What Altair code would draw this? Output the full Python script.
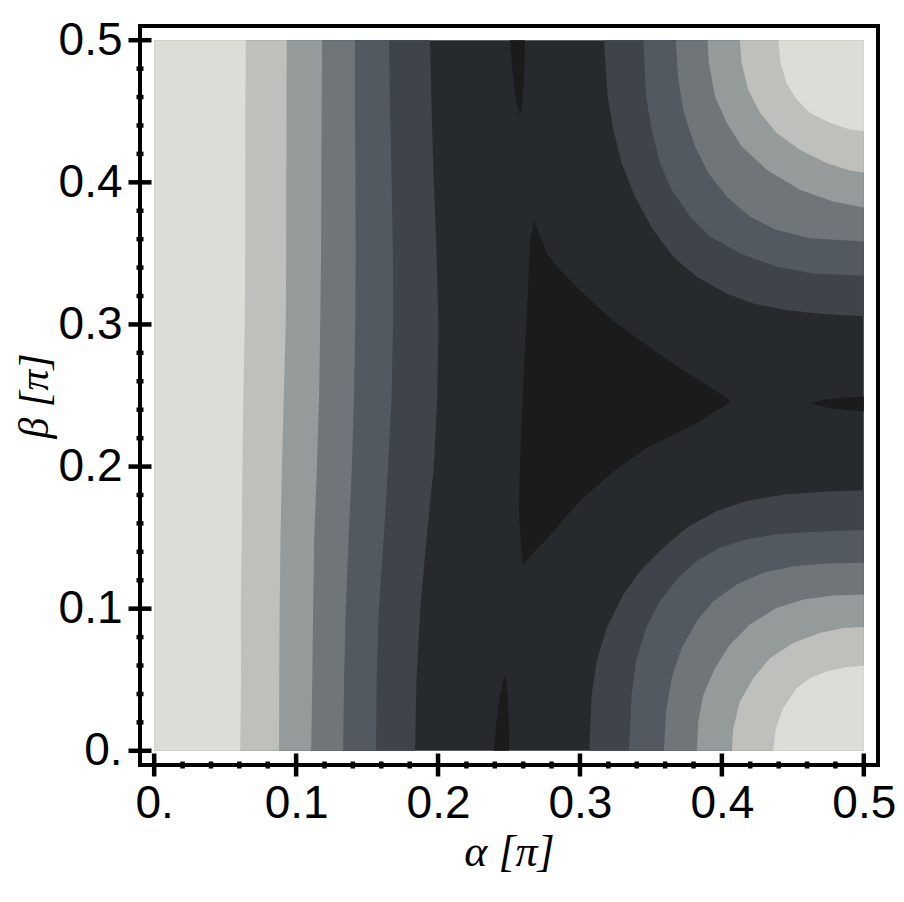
import altair as alt
import pandas as pd

# ---------------- values ----------------
# contour fill colours, lightest (level 0) to darkest (level 7)
LEVEL_COLORS = ["#dcddd6", "#bfc0bc", "#959a9a", "#6f7578",
                "#525960", "#3f434a", "#272a2d", "#1b1b1b"]

AXIS_DOMAIN = [-0.01, 0.51]          # frame range (plot range + padding)
DATA_RANGE = [0.0, 0.5]
MAJOR_TICKS = [0.0, 0.1, 0.2, 0.3, 0.4, 0.5]
MINOR_TICKS = [0.02, 0.04, 0.06, 0.08, 0.12, 0.14, 0.16, 0.18,
               0.22, 0.24, 0.26, 0.28, 0.32, 0.34, 0.36, 0.38,
               0.42, 0.44, 0.46, 0.48]

# left vertical bands: alpha position of each contour line at these beta values
BETA_GRID = [0.00, 0.05, 0.10, 0.15, 0.20, 0.25, 0.30, 0.35, 0.40, 0.45, 0.50]
LEFT_LINE_0 = [.0606, .0612, .0610, .0617, .0622, .0628, .0638, .0641, .0641, .0643, .0645]
LEFT_LINE_1 = [.0880, .0881, .0884, .0890, .0900, .0913, .0927, .0930, .0931, .0932, .0934]
LEFT_LINE_2 = [.1106, .1114, .1120, .1128, .1147, .1162, .1170, .1176, .1178, .1180, .1183]
LEFT_LINE_3 = [.1331, .1338, .1350, .1370, .1393, .1408, .1417, .1420, .1418, .1415, .1415]
LEFT_LINE_4 = [.1563, .1568, .1583, .1618, .1648, .1673, .1683, .1682, .1673, .1662, .1655]
LEFT_LINE_5 = [.1838, .1848, .1875, .1920, .1970, .1995, .2003, .1990, .1970, .1955, .1944]

# bottom-right arcs (alpha, beta) for contour levels 0..5
BR_ALPHA_0 = [.4362, .4380, .4432, .4526, .4620, .4737, .4878, .5000]
BR_BETA_0 = [.0000, .0158, .0299, .0440, .0511, .0558, .0589, .0598]
BR_ALPHA_1 = [.4070, .4080, .4127, .4221, .4338, .4502, .4690, .4854, .5000]
BR_BETA_1 = [.0000, .0158, .0346, .0511, .0652, .0758, .0829, .0864, .0871]
BR_ALPHA_2 = [.3824, .3833, .3869, .3951, .4056, .4197, .4385, .4573, .4784, .5000]
BR_BETA_2 = [.0000, .0205, .0393, .0581, .0746, .0888, .1005, .1064, .1092, .1099]
BR_ALPHA_3 = [.3592, .3606, .3646, .3716, .3822, .3939, .4103, .4291, .4502, .4737, .5000]
BR_BETA_3 = [.0000, .0275, .0511, .0723, .0911, .1052, .1170, .1252, .1299, .1318, .1323]
BR_ALPHA_4 = [.3345, .3364, .3394, .3465, .3563, .3692, .3822, .3986, .4174, .4385, .4643, .5000]
BR_BETA_4 = [.0000, .0393, .0629, .0864, .1052, .1217, .1335, .1429, .1488, .1523, .1542, .1554]
BR_ALPHA_5 = [.3066, .3082, .3117, .3188, .3305, .3423, .3563, .3751, .3962, .4174, .4455, .4737, .5000]
BR_BETA_5 = [.0000, .0393, .0629, .0864, .1099, .1264, .1405, .1570, .1688, .1758, .1806, .1824, .1834]

# top-right arcs (alpha, beta) for contour levels 0..5
TR_ALPHA_0 = [.4399, .4413, .4455, .4526, .4620, .4761, .4901, .5000]
TR_BETA_0 = [.5000, .4842, .4701, .4583, .4489, .4419, .4371, .4360]
TR_ALPHA_1 = [.4127, .4139, .4185, .4268, .4385, .4549, .4737, .4901, .5000]
TR_BETA_1 = [.5000, .4842, .4654, .4489, .4348, .4230, .4136, .4084, .4070]
TR_ALPHA_2 = [.3899, .3908, .3951, .4033, .4139, .4315, .4549, .4784, .5000]
TR_BETA_2 = [.5000, .4842, .4607, .4419, .4254, .4089, .3948, .3865, .3823]
TR_ALPHA_3 = [.3676, .3692, .3732, .3810, .3904, .4033, .4197, .4385, .4620, .5000]
TR_BETA_3 = [.5000, .4725, .4489, .4254, .4065, .3901, .3759, .3665, .3606, .3583]
TR_ALPHA_4 = [.3446, .3465, .3505, .3563, .3646, .3775, .3915, .4127, .4385, .4643, .5000]
TR_BETA_4 = [.5000, .4607, .4371, .4136, .3948, .3759, .3618, .3500, .3406, .3359, .3343]
TR_ALPHA_5 = [.3169, .3195, .3235, .3293, .3387, .3516, .3657, .3822, .4033, .4221, .4455, .4737, .5000]
TR_BETA_5 = [.5000, .4607, .4371, .4136, .3901, .3665, .3477, .3336, .3218, .3147, .3100, .3072, .3058]

# darkest level: central curved triangle
TRI_ALPHA = [.2570, .2575, .2585, .2601, .2625, .2650, .2676, .2720, .2765,
             .2877, .3000, .3232, .3472, .3704, .3845, .4068]
TRI_LOWER = [.1700, .1600, .1450, .1299, .1338, .1370, .1398, .1445, .1487,
             .1620, .1758, .1963, .2133, .2245, .2318, .2460]
TRI_UPPER = [.1700, .1950, .2220, .2606, .3077, .3600, .3731, .3620, .3501,
             .3367, .3240, .3028, .2853, .2691, .2606, .2460]

# darkest level: small islands
BOT_ISLAND_ALPHA = [.2394, .2413, .2437, .2472, .2491, .2498, .2500]
BOT_ISLAND_BETA = [.0000, .0228, .0393, .0546, .0393, .0228, .0000]
TOP_ISLAND_ALPHA = [.2507, .2530, .2554, .2577, .2594, .2606, .2613]
TOP_ISLAND_BETA = [.5000, .4725, .4560, .4465, .4560, .4725, .5000]
RIGHT_ISLAND_ALPHA = [.4615, .4737, .4854, .5000]
RIGHT_ISLAND_LOW = [.2446, .2413, .2399, .2389]
RIGHT_ISLAND_HIGH = [.2446, .2474, .2486, .2493]

# ---------------- chart ----------------
LABEL_EXPR = "datum.value == 0 ? '0.' : format(datum.value, '.1f')"
XS = alt.Scale(domain=AXIS_DOMAIN, nice=False, zero=False)
YS = alt.Scale(domain=AXIS_DOMAIN, nice=False, zero=False)
XAXIS = alt.Axis(values=MAJOR_TICKS, labelExpr=LABEL_EXPR, ticks=False, domain=False,
                 grid=False, labelFont="Liberation Sans", labelFontSize=46,
                 labelColor="black", labelPadding=16, labelFlush=False,
                 labelOverlap=False, title="α [π]", titleFont="Liberation Serif",
                 titleFontSize=44, titleFontStyle="italic", titleFontWeight="normal",
                 titleColor="black", titleBaseline="alphabetic", titleY=100)
YAXIS = alt.Axis(values=MAJOR_TICKS, labelExpr=LABEL_EXPR, ticks=False, domain=False,
                 grid=False, labelFont="Liberation Sans", labelFontSize=46,
                 labelColor="black", labelPadding=18, labelFlush=False,
                 labelOverlap=False, title="β [π]", titleFont="Liberation Serif",
                 titleFontSize=42, titleFontStyle="italic", titleFontWeight="normal",
                 titleColor="black", titleBaseline="alphabetic", titleAngle=270,
                 titleX=-93)


def X(field):
    return alt.X(field, type="quantitative", scale=XS, axis=XAXIS)


def Y(field):
    return alt.Y(field, type="quantitative", scale=YS, axis=YAXIS)


layers = []

# background: the dark plateau level over the whole plot range
bg = pd.DataFrame({"a0": [DATA_RANGE[0]], "a1": [DATA_RANGE[1]],
                   "b0": [DATA_RANGE[0]], "b1": [DATA_RANGE[1]]})
layers.append(alt.Chart(bg).mark_rect(color=LEVEL_COLORS[6]).encode(
    x=X("a0"), x2="a1", y=Y("b0"), y2="b1"))

# left bands, painted from the darkest (widest) to the lightest
left_lines = [LEFT_LINE_0, LEFT_LINE_1, LEFT_LINE_2, LEFT_LINE_3, LEFT_LINE_4, LEFT_LINE_5]
for k in range(5, -1, -1):
    df = pd.DataFrame({"beta": BETA_GRID, "edge": left_lines[k],
                       "base": [DATA_RANGE[0]] * len(BETA_GRID)})
    layers.append(alt.Chart(df).mark_area(orient="horizontal", color=LEVEL_COLORS[k]).encode(
        y=Y("beta"), x=X("edge"), x2="base"))

# corner arcs, painted from the outermost to the innermost
br = [(BR_ALPHA_0, BR_BETA_0), (BR_ALPHA_1, BR_BETA_1), (BR_ALPHA_2, BR_BETA_2),
      (BR_ALPHA_3, BR_BETA_3), (BR_ALPHA_4, BR_BETA_4), (BR_ALPHA_5, BR_BETA_5)]
tr = [(TR_ALPHA_0, TR_BETA_0), (TR_ALPHA_1, TR_BETA_1), (TR_ALPHA_2, TR_BETA_2),
      (TR_ALPHA_3, TR_BETA_3), (TR_ALPHA_4, TR_BETA_4), (TR_ALPHA_5, TR_BETA_5)]
for k in range(5, -1, -1):
    a, b = br[k]
    df = pd.DataFrame({"alpha": a, "beta": b, "base": [DATA_RANGE[0]] * len(a)})
    layers.append(alt.Chart(df).mark_area(orient="vertical", color=LEVEL_COLORS[k]).encode(
        x=X("alpha"), y=Y("beta"), y2="base"))
    a, b = tr[k]
    df = pd.DataFrame({"alpha": a, "beta": b, "base": [DATA_RANGE[1]] * len(a)})
    layers.append(alt.Chart(df).mark_area(orient="vertical", color=LEVEL_COLORS[k]).encode(
        x=X("alpha"), y=Y("beta"), y2="base"))

# darkest regions
tri = pd.DataFrame({"alpha": TRI_ALPHA, "lo": TRI_LOWER, "hi": TRI_UPPER})
layers.append(alt.Chart(tri).mark_area(orient="vertical", color=LEVEL_COLORS[7]).encode(
    x=X("alpha"), y=Y("lo"), y2="hi"))
bi = pd.DataFrame({"alpha": BOT_ISLAND_ALPHA, "beta": BOT_ISLAND_BETA,
                   "base": [DATA_RANGE[0]] * len(BOT_ISLAND_ALPHA)})
layers.append(alt.Chart(bi).mark_area(orient="vertical", color=LEVEL_COLORS[7]).encode(
    x=X("alpha"), y=Y("beta"), y2="base"))
ti = pd.DataFrame({"alpha": TOP_ISLAND_ALPHA, "beta": TOP_ISLAND_BETA,
                   "base": [DATA_RANGE[1]] * len(TOP_ISLAND_ALPHA)})
layers.append(alt.Chart(ti).mark_area(orient="vertical", color=LEVEL_COLORS[7]).encode(
    x=X("alpha"), y=Y("beta"), y2="base"))
ri = pd.DataFrame({"alpha": RIGHT_ISLAND_ALPHA, "lo": RIGHT_ISLAND_LOW, "hi": RIGHT_ISLAND_HIGH})
layers.append(alt.Chart(ri).mark_area(orient="vertical", color=LEVEL_COLORS[7]).encode(
    x=X("alpha"), y=Y("lo"), y2="hi"))

# frame ticks (crossing the frame line on the bottom and left edges)
xt_major = pd.DataFrame({"v": MAJOR_TICKS, "edge": [AXIS_DOMAIN[0]] * len(MAJOR_TICKS)})
xt_minor = pd.DataFrame({"v": MINOR_TICKS, "edge": [AXIS_DOMAIN[0]] * len(MINOR_TICKS)})
layers.append(alt.Chart(xt_major).mark_tick(orient="vertical", size=23, thickness=4.5,
                                            color="black", opacity=1).encode(
    x=X("v"), y=Y("edge")))
layers.append(alt.Chart(xt_minor).mark_tick(orient="vertical", size=7, thickness=4.5,
                                            color="black", opacity=1).encode(
    x=X("v"), y=Y("edge")))
layers.append(alt.Chart(xt_major).mark_tick(orient="horizontal", size=23, thickness=4.5,
                                            color="black", opacity=1).encode(
    y=Y("v"), x=X("edge")))
layers.append(alt.Chart(xt_minor).mark_tick(orient="horizontal", size=7, thickness=4.5,
                                            color="black", opacity=1).encode(
    y=Y("v"), x=X("edge")))

chart = alt.layer(*layers).properties(
    width=738, height=739,
    autosize=alt.AutoSizeParams(type="none"),
    padding={"left": 132, "top": 18, "right": 18, "bottom": 125},
    background="white",
).configure_view(stroke="black", strokeWidth=4)

chart.save("out.html", embed_options={"renderer": "svg", "actions": False})
